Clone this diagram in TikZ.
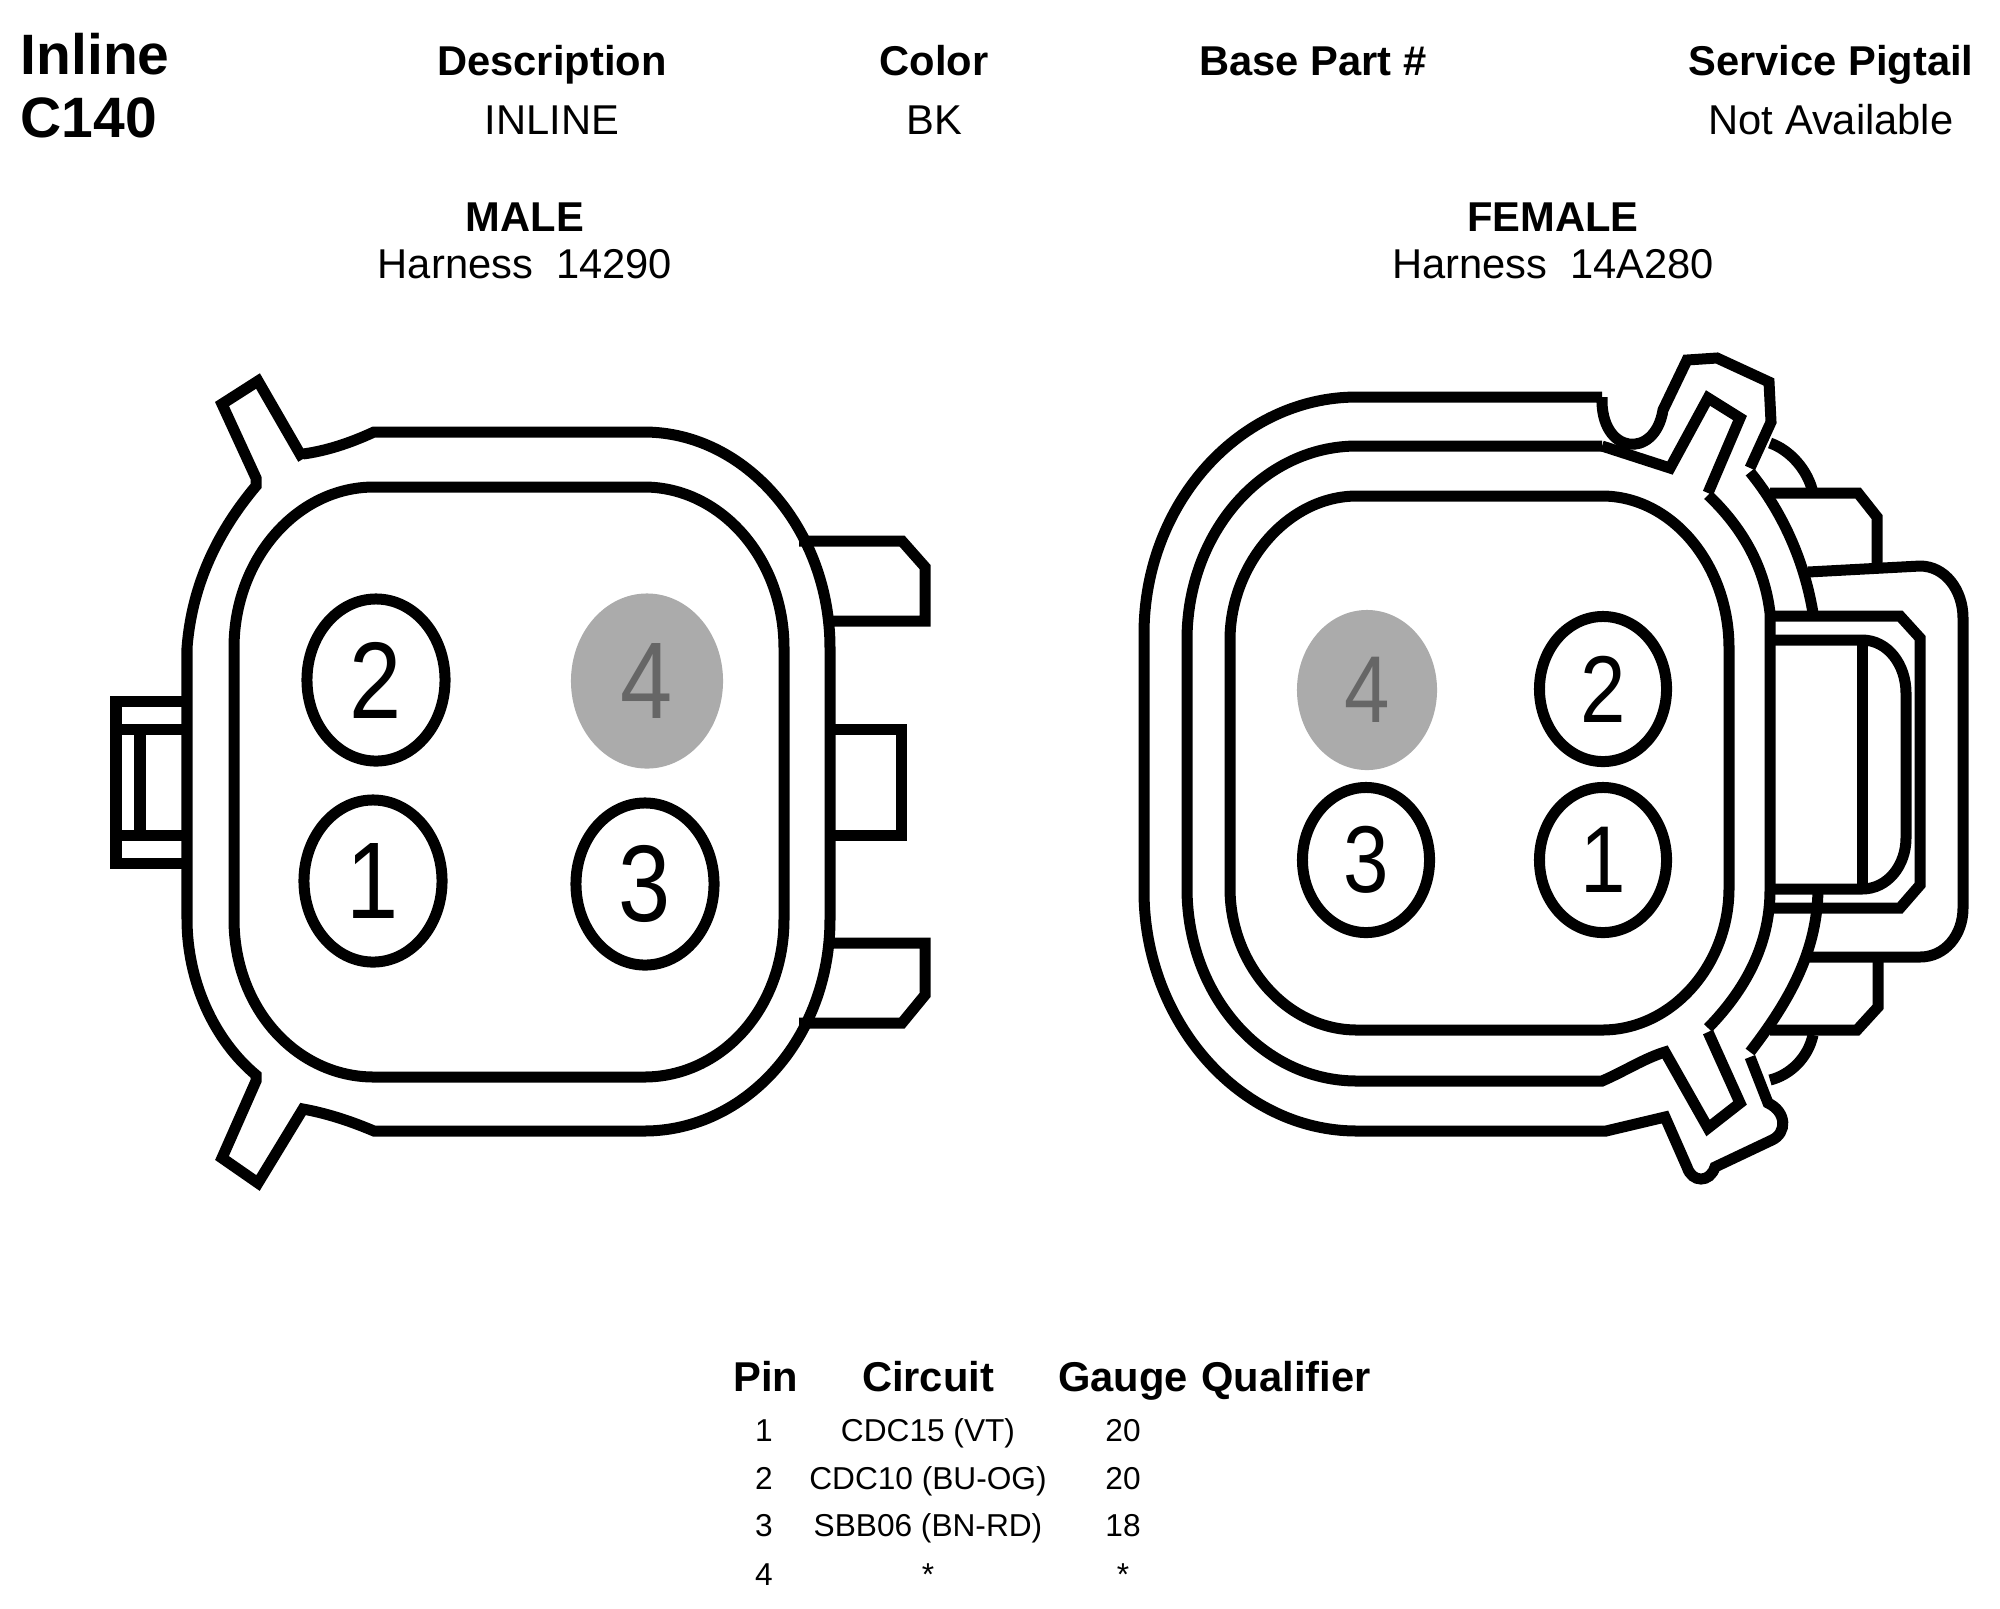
\documentclass[tikz,border=0pt]{standalone}
\usepackage{fontspec}
\setmainfont{Liberation Sans}
\usepackage{xcolor}
\usetikzlibrary{shapes.geometric}
\definecolor{pingrey}{HTML}{ABABAB}
\definecolor{digitgrey}{HTML}{666666}
\newcommand{\pinnum}[1]{\scalebox{0.86}[1]{#1}}
\tikzset{
  wire/.style={line width=0.11cm},
  title/.style={font=\bfseries\fontsize{16.2}{18}\selectfont,anchor=base west,inner sep=0pt},
  head/.style={font=\bfseries\fontsize{11.85}{14}\selectfont,anchor=base,inner sep=0pt},
  info/.style={font=\fontsize{11.85}{14}\selectfont,anchor=base,inner sep=0pt},
  row/.style={font=\fontsize{9}{11}\selectfont,anchor=base,inner sep=0pt},
  pinm/.style={ellipse,draw,line width=0.11cm,inner sep=0pt,minimum width=1.38cm,minimum height=1.62cm,font=\fontsize{31}{33}\selectfont},
  pinf/.style={ellipse,draw,line width=0.11cm,inner sep=0pt,minimum width=1.27cm,minimum height=1.45cm,font=\fontsize{27}{29}\selectfont},
  deadm/.style={pinm,draw=none,fill=pingrey,text=digitgrey,minimum width=1.52cm,minimum height=1.75cm},
  deadf/.style={pinf,draw=none,fill=pingrey,text=digitgrey,minimum width=1.40cm,minimum height=1.60cm}
}
\begin{document}
\begin{tikzpicture}[x=0.01cm,y=-0.01cm]
\useasboundingbox (0,0) rectangle (2000,1608);
% header
\node[title] (inl) at (20,74) {Inline};
\node[title] (cnum) at (20,137) {C140};
\node[head] (hdesc) at (552,75) {Description};
\node[info] (vdesc) at (552,134) {INLINE};
\node[head] (hcol) at (934,75) {Color};
\node[info] (vcol) at (934,134) {BK};
\node[head] (hbase) at (1313,75) {Base Part \#};
\node[head] (hsvc) at (1831,75) {Service Pigtail};
\node[info] (vsvc) at (1831,134) {Not Available};
\node[head] (hmale) at (525,231) {MALE};
\node[info] (vmale) at (525,278) {Harness\ \ 14290};
\node[head] (hfem) at (1553,231) {FEMALE};
\node[info] (vfem) at (1553,278) {Harness\ \ 14A280};
% male housing
\draw[wire] (303,454) .. controls (325,451) and (348,444) .. (374,432) -- (644,432)
  .. controls (746,432) and (830,530) .. (830,648) -- (830,919)
  .. controls (830,1038) and (746,1131) .. (644,1131) -- (374,1131)
  .. controls (348,1120) and (325,1113) .. (303,1109) -- (258,1183) -- (222,1158) -- (256,1081) -- (256,1075)
  .. controls (214,1040) and (187,981) .. (187,919) -- (187,648)
  .. controls (192,583) and (219,530) .. (256,486) -- (256,478) -- (222,404) -- (258,381) -- (303,459);
\draw[wire] (374,487) -- (644,487) .. controls (721,487) and (784,559) .. (784,648) -- (784,919)
  .. controls (784,1009) and (721,1077) .. (644,1077) -- (374,1077)
  .. controls (297,1077) and (234,1009) .. (234,919) -- (234,648)
  .. controls (234,559) and (297,487) .. (374,487) -- cycle;
% male tabs
\draw[wire] (799,541) -- (902,541) -- (925,567) -- (925,621) -- (830,621);
\draw[wire] (833,729) -- (901,729) -- (901,835) -- (833,835);
\draw[wire] (827,943) -- (925,943) -- (925,995) -- (902,1023) -- (799,1023);
\draw[wire] (183,701) -- (116,701) -- (116,863) -- (183,863);
\draw[wire] (120,729) -- (183,729);
\draw[wire] (120,835) -- (183,835);
\draw[wire] (140,729) -- (140,835);
% male pins
\node[pinm] (m2) at (376,680) {\pinnum{2}};
\node[pinm] (m1) at (373,881) {\pinnum{1}};
\node[pinm] (m3) at (645,884) {\pinnum{3}};
\node[deadm] (m4) at (647,681) {\pinnum{4}};
% female outer wall
\draw[wire] (1602,397) -- (1357,397) .. controls (1240,397) and (1144,503) .. (1144,634) -- (1144,891)
  .. controls (1144,1022) and (1240,1131) .. (1357,1131) -- (1606,1131) -- (1665,1117)
  -- (1687,1167) .. controls (1692,1183) and (1710,1183) .. (1715,1167) -- (1772,1140)
  .. controls (1787,1133) and (1787,1112) .. (1768,1103) -- (1750,1057);
\draw[wire] (1750,1052) .. controls (1790,1000) and (1818,950) .. (1818,887);
\draw[wire] (1750,472) .. controls (1785,515) and (1805,565) .. (1813,613);
\draw[wire] (1602,397) .. controls (1600,455) and (1655,460) .. (1663,410) -- (1687,360) -- (1717,358) -- (1769,382) -- (1771,422) -- (1750,468);
% female middle wall
\draw[wire] (1602,446) -- (1357,446) .. controls (1263,446) and (1187,532) .. (1187,640) -- (1187,888)
  .. controls (1187,996) and (1263,1081) .. (1357,1081) -- (1602,1081) .. controls (1625,1071) and (1645,1058) .. (1665,1052)
  -- (1708,1128) -- (1740,1103) -- (1708,1032);
\draw[wire] (1708,1028) .. controls (1745,990) and (1770,945) .. (1770,890) -- (1770,613)
  .. controls (1765,570) and (1745,530) .. (1708,495);
\draw[wire] (1708,493) -- (1740,418) -- (1708,398) -- (1670,468) -- (1602,446);
% female inner wall
\draw[wire] (1357,496) -- (1602,496) .. controls (1672,496) and (1729,565) .. (1729,648) -- (1729,888)
  .. controls (1729,965) and (1672,1030) .. (1602,1030) -- (1357,1030)
  .. controls (1287,1030) and (1230,965) .. (1230,888) -- (1230,640)
  .. controls (1230,565) and (1287,496) .. (1357,496) -- cycle;
% female flaps and tabs
\draw[wire] (1770,443) .. controls (1790,450) and (1808,470) .. (1813,493);
\draw[wire] (1770,493) -- (1858,493) -- (1877,517) -- (1877,567);
\draw[wire] (1808,572) -- (1920,566) .. controls (1945,566) and (1963,590) .. (1963,618) -- (1963,908)
  .. controls (1963,935) and (1945,957) .. (1920,957) -- (1808,957);
\draw[wire] (1770,616) -- (1900,616) -- (1920,638) -- (1920,885) -- (1900,908) -- (1770,908);
\draw[wire] (1770,640) -- (1862,640) .. controls (1888,640) and (1906,665) .. (1906,693) -- (1906,838)
  .. controls (1906,865) and (1888,889) .. (1862,889) -- (1770,889);
\draw[wire] (1862,640) -- (1862,889);
\draw[wire] (1878,960) -- (1878,1007) -- (1857,1030) -- (1770,1030);
\draw[wire] (1813,1035) .. controls (1808,1058) and (1790,1075) .. (1770,1080);
% female pins
\node[pinf] (f2) at (1603,689) {\pinnum{2}};
\node[pinf] (f1) at (1603,860) {\pinnum{1}};
\node[pinf] (f3) at (1366,860) {\pinnum{3}};
\node[deadf] (f4) at (1367,690) {\pinnum{4}};
% pin table
\node[head] (hpin) at (766,1391) {Pin};
\node[head] (hcct) at (928,1391) {Circuit};
\node[head] (hgau) at (1123,1391) {Gauge};
\node[head] (hqua) at (1286,1391) {Qualifier};
\node[row] (p1) at (764,1441) {1};
\node[row] (c1) at (928,1441) {CDC15 (VT)};
\node[row] (g1) at (1123,1441) {20};
\node[row] (p2) at (764,1489) {2};
\node[row] (c2) at (928,1489) {CDC10 (BU-OG)};
\node[row] (g2) at (1123,1489) {20};
\node[row] (p3) at (764,1536) {3};
\node[row] (c3) at (928,1536) {SBB06 (BN-RD)};
\node[row] (g3) at (1123,1536) {18};
\node[row] (p4) at (764,1585) {4};
\node[row] (c4) at (928,1585) {*};
\node[row] (g4) at (1123,1585) {*};
\end{tikzpicture}
\end{document}
